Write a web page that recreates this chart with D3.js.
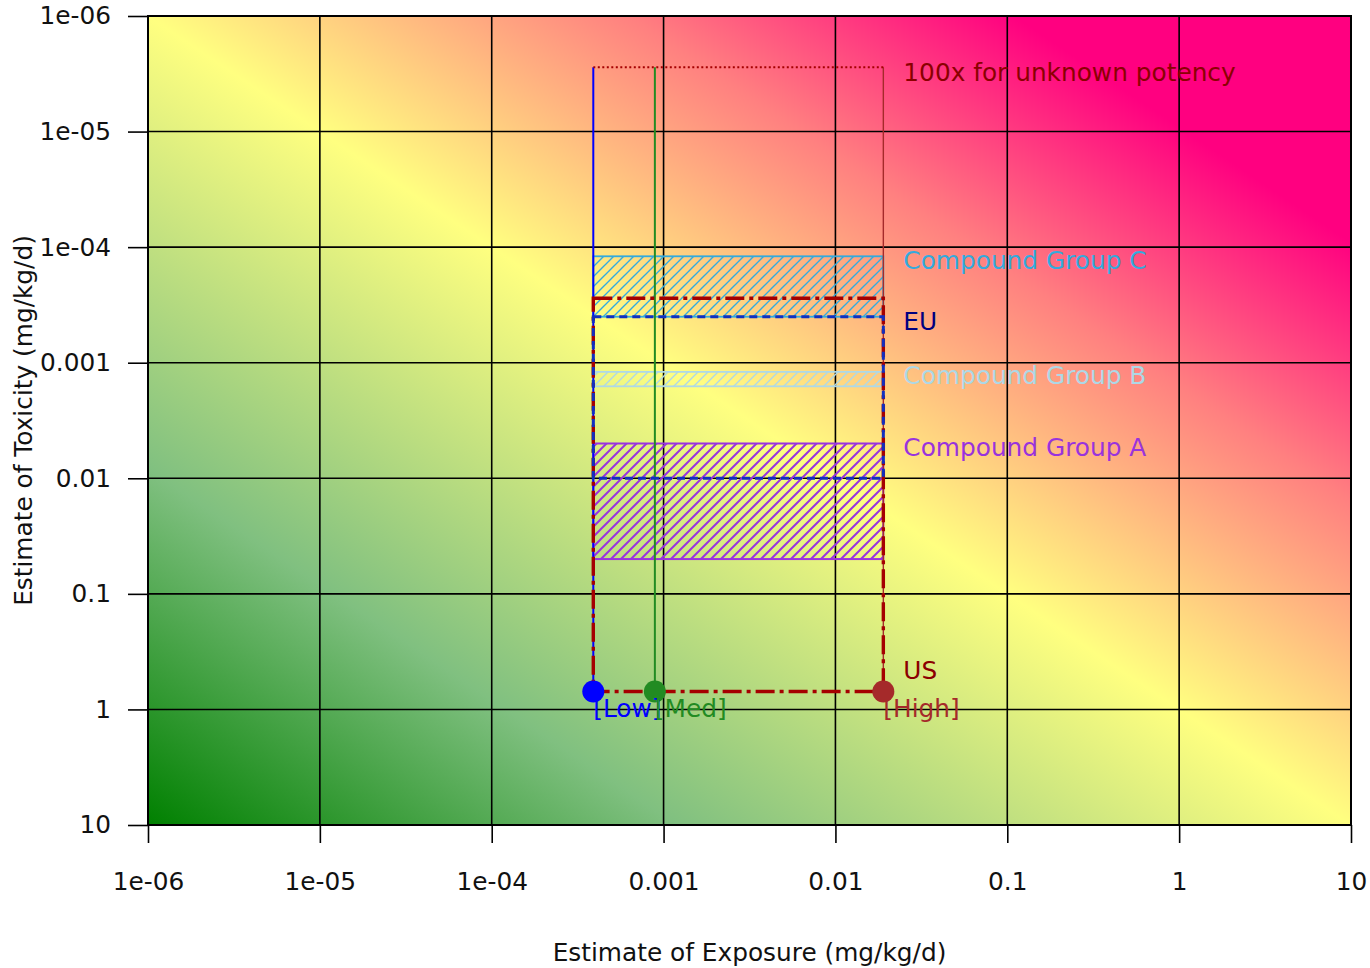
<!DOCTYPE html>
<html>
<head>
<meta charset="utf-8">
<script src="https://cdn.jsdelivr.net/npm/d3@7"></script>
<style>
  body { margin: 0; background: #fff; }
  svg { display: block; }
  text { font-family: "DejaVu Sans", sans-serif; }
</style>
</head>
<body>
<svg id="chart" width="1370" height="968"></svg>
<script>
// ---- data ----
const exposureTicks = [1e-6, 1e-5, 1e-4, 1e-3, 1e-2, 1e-1, 1, 10];
const exposureTickLabels = ["1e-06", "1e-05", "1e-04", "0.001", "0.01", "0.1", "1", "10"];
const toxicityTicks = [1e-6, 1e-5, 1e-4, 1e-3, 1e-2, 1e-1, 1, 10];
const toxicityTickLabels = ["1e-06", "1e-05", "1e-04", "0.001", "0.01", "0.1", "1", "10"];

// exposure scenarios (mg/kg/d)
const scenarioNames = ["Low", "Med", "High"];
const scenarioExposure = [0.00039, 0.00089, 0.019];
const scenarioToxicity = [0.7, 0.7, 0.7];

// regulatory toxicity ranges (mg/kg/d)
const usToxicityRange = [0.000277, 0.7];
const euToxicityRange = [0.0004, 0.01];
const unknownPotencyToxicity = 0.00000277;

// compound groups: toxicity ranges (mg/kg/d)
const groupNames = ["Compound Group A", "Compound Group B", "Compound Group C"];
const groupToxicityLow = [0.005, 0.0012, 0.00012];
const groupToxicityHigh = [0.05, 0.0016, 0.0004];

// ---- layout & style ----
const plot = { left: 148, right: 1351, top: 16, bottom: 825 };
const fontSize = 24.8;
const scenarioColors = ["#0000ff", "#228b22", "#a52a2a"];
const groupColors = ["#9933dd", "#add8e6", "#33aadd"];
const usColor = "#a50000";
const euColor = "#1030c0";

const svg = d3.select("#chart");
const x = d3.scaleLog().domain([1e-6, 10]).range([plot.left, plot.right]);
const y = d3.scaleLog().domain([1e-6, 10]).range([plot.top, plot.bottom]);

const defs = svg.append("defs");

// diagonal risk gradient: low exposure & low potency (green) to high (magenta)
const grad = defs.append("linearGradient")
  .attr("id", "riskGrad")
  .attr("gradientUnits", "objectBoundingBox")
  .attr("x1", 0).attr("y1", 1).attr("x2", 1).attr("y2", 0);
[[0, "#008000"], [0.22, "#80c080"], [0.5, "#ffff80"], [0.7, "#ff8080"], [0.86, "#ff0080"], [1, "#ff0080"]]
  .forEach(([o, c]) => grad.append("stop").attr("offset", o).attr("stop-color", c));

// hatch patterns for the compound groups
groupColors.forEach((c, i) => {
  const s = 10;
  const p = defs.append("pattern")
    .attr("id", "hatch" + i)
    .attr("patternUnits", "userSpaceOnUse")
    .attr("width", s).attr("height", s);
  p.append("path")
    .attr("d", `M0,${s} L${s},0 M${-s/2},${s/2} L${s/2},${-s/2} M${s/2},${s*1.5} L${s*1.5},${s/2}`)
    .attr("stroke", c)
    .attr("stroke-width", i === 0 ? 2 : 1.4);
});

// background
svg.append("rect")
  .attr("x", plot.left).attr("y", plot.top)
  .attr("width", plot.right - plot.left).attr("height", plot.bottom - plot.top)
  .attr("fill", "url(#riskGrad)");

// grid
const grid = svg.append("g").attr("stroke", "#000").attr("stroke-width", 1.6);
exposureTicks.forEach(v => grid.append("line")
  .attr("x1", x(v)).attr("x2", x(v)).attr("y1", plot.top).attr("y2", plot.bottom));
toxicityTicks.forEach(v => grid.append("line")
  .attr("x1", plot.left).attr("x2", plot.right).attr("y1", y(v)).attr("y2", y(v)));

// axes
const xAxis = d3.axisBottom(x)
  .tickValues(exposureTicks)
  .tickFormat((d, i) => exposureTickLabels[i])
  .tickSize(18).tickPadding(29.5);
const gx = svg.append("g").attr("transform", `translate(0,${plot.bottom})`).call(xAxis);

const yAxis = d3.axisLeft(y)
  .tickValues(toxicityTicks)
  .tickFormat((d, i) => toxicityTickLabels[i])
  .tickSize(20).tickPadding(17);
const gy = svg.append("g").attr("transform", `translate(${plot.left},0)`).call(yAxis);

[gx, gy].forEach(g => {
  g.select(".domain").remove();
  g.selectAll(".tick line").attr("stroke", "#000").attr("stroke-width", 1.6);
  g.selectAll(".tick text")
    .attr("fill", "#111")
    .style("font-size", fontSize + "px")
    .style("font-family", "'DejaVu Sans', sans-serif");
});

// frame
svg.append("rect")
  .attr("x", plot.left).attr("y", plot.top)
  .attr("width", plot.right - plot.left).attr("height", plot.bottom - plot.top)
  .attr("fill", "none").attr("stroke", "#000").attr("stroke-width", 2);

// axis titles
svg.append("text")
  .attr("x", (plot.left + plot.right) / 2).attr("y", 961)
  .attr("text-anchor", "middle")
  .style("font-size", fontSize + "px").attr("fill", "#111")
  .text("Estimate of Exposure (mg/kg/d)");
svg.append("text")
  .attr("transform", `translate(32,${(plot.top + plot.bottom) / 2}) rotate(-90)`)
  .attr("text-anchor", "middle")
  .style("font-size", fontSize + "px").attr("fill", "#111")
  .text("Estimate of Toxicity (mg/kg/d)");

const xLo = x(d3.min(scenarioExposure));
const xHi = x(d3.max(scenarioExposure));

// compound group bands
const groups = svg.append("g");
groupNames.forEach((name, i) => {
  groups.append("rect")
    .attr("x", xLo).attr("width", xHi - xLo)
    .attr("y", y(groupToxicityLow[i]))
    .attr("height", y(groupToxicityHigh[i]) - y(groupToxicityLow[i]))
    .attr("fill", `url(#hatch${i})`)
    .attr("stroke", groupColors[i])
    .attr("stroke-width", i === 0 ? 2 : 1.8);
});

// vertical lines per scenario up to the unknown-potency level
scenarioExposure.forEach((v, i) => {
  svg.append("line")
    .attr("x1", x(v)).attr("x2", x(v))
    .attr("y1", y(scenarioToxicity[i])).attr("y2", y(unknownPotencyToxicity))
    .attr("stroke", scenarioColors[i])
    .attr("stroke-width", i === 2 ? 1.4 : 2);
});

// unknown-potency line
svg.append("line")
  .attr("x1", xLo).attr("x2", xHi)
  .attr("y1", y(unknownPotencyToxicity)).attr("y2", y(unknownPotencyToxicity))
  .attr("stroke", usColor).attr("stroke-width", 2)
  .attr("stroke-dasharray", "2 2.5");

// US range (dash-dot)
svg.append("rect")
  .attr("x", xLo).attr("width", xHi - xLo)
  .attr("y", y(usToxicityRange[0]))
  .attr("height", y(usToxicityRange[1]) - y(usToxicityRange[0]))
  .attr("fill", "none")
  .attr("stroke", usColor).attr("stroke-width", 3.4)
  .attr("stroke-dasharray", "19 5 4 5");

// EU range (dashed)
svg.append("rect")
  .attr("x", xLo).attr("width", xHi - xLo)
  .attr("y", y(euToxicityRange[0]))
  .attr("height", y(euToxicityRange[1]) - y(euToxicityRange[0]))
  .attr("fill", "none")
  .attr("stroke", euColor).attr("stroke-width", 3)
  .attr("stroke-dasharray", "8 5");

// scenario points
scenarioExposure.forEach((v, i) => {
  svg.append("circle")
    .attr("cx", x(v)).attr("cy", y(scenarioToxicity[i]))
    .attr("r", 11)
    .attr("fill", scenarioColors[i]);
});
scenarioExposure.forEach((v, i) => {
  svg.append("text")
    .attr("x", x(v)).attr("y", y(scenarioToxicity[i]) + 25)
    .style("font-size", fontSize + "px")
    .attr("fill", scenarioColors[i])
    .text(`[${scenarioNames[i]}]`);
});

// annotations to the right of the bands
const labelX = xHi + 20;
const annotate = (txt, yy, color) => svg.append("text")
  .attr("x", labelX).attr("y", yy)
  .style("font-size", fontSize + "px")
  .attr("fill", color)
  .text(txt);

annotate("100x for unknown potency", y(unknownPotencyToxicity) + 13.5, "#8b0000");
groupNames.forEach((name, i) => annotate(name, y(groupToxicityLow[i]) + 12.5, groupColors[i]));
annotate("EU", y(euToxicityRange[0]) + 13, "#000080");
annotate("US", y(usToxicityRange[1]) - 13, "#8b0000");
</script>
</body>
</html>
